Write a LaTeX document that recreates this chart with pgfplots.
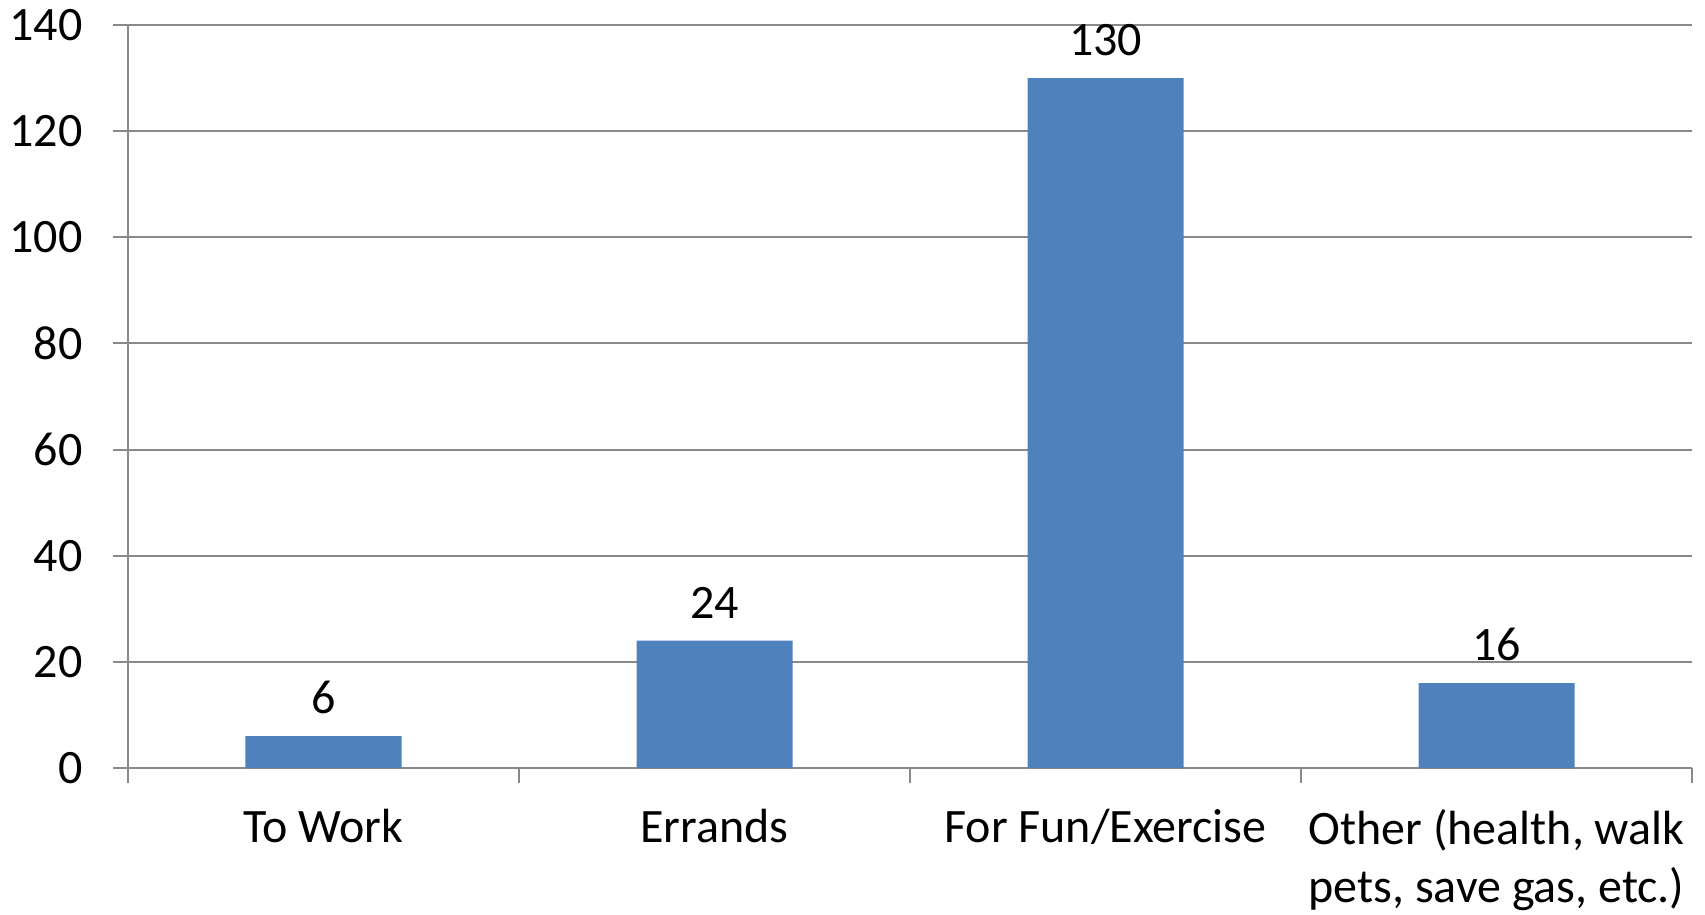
\documentclass[border=0pt]{standalone}
\usepackage{fontspec}
\setmainfont{Carlito}
\usepackage{pgfplots}
\pgfplotsset{compat=1.18}
\definecolor{barblue}{HTML}{4F81BD}
\definecolor{gridgray}{HTML}{898989}
\begin{document}
\fontsize{24pt}{29pt}\selectfont
\begin{tikzpicture}
\begin{axis}[
  scale only axis,
  width=782pt, height=371.5pt,
  xmin=-0.5, xmax=3.5,
  ymin=0, ymax=140,
  ytick={0,20,...,140},
  xtick={0,1,2,3},
  xticklabels={To Work, Errands, For Fun/Exercise, {Other (health, walk\\pets, save gas, etc.)}},
  minor xtick={-0.5,0.5,1.5,2.5,3.5},
  major x tick style={draw=none},
  minor x tick style={draw=gridgray, line width=1pt},
  major tick length=7.5pt,
  minor tick length=7.5pt,
  tick align=outside,
  axis x line*=bottom,
  axis y line*=left,
  axis line style={draw=gridgray, line width=1pt, -},
  y tick style={draw=gridgray, line width=1pt},
  ymajorgrids,
  grid style={draw=gridgray, line width=1pt},
  tick label style={font=\fontsize{24pt}{29pt}\selectfont},
  xticklabel style={align=center, inner sep=0pt, yshift=-13pt},
  yticklabel style={xshift=-7pt},
  /pgf/number format/assume math mode=true,
  ybar,
  bar width=78pt,
  nodes near coords,
  every node near coord/.append style={font=\fontsize{24pt}{29pt}\selectfont, yshift=3pt},
  clip=false,
]
\addplot[fill=barblue, draw=none] coordinates {(0,6) (1,24) (2,130) (3,16)};
\end{axis}
\pgfresetboundingbox
\useasboundingbox ([xshift=-64pt,yshift=-73pt]current axis.south west) rectangle ([xshift=6.5pt,yshift=12.5pt]current axis.north east);
\end{tikzpicture}
\end{document}
